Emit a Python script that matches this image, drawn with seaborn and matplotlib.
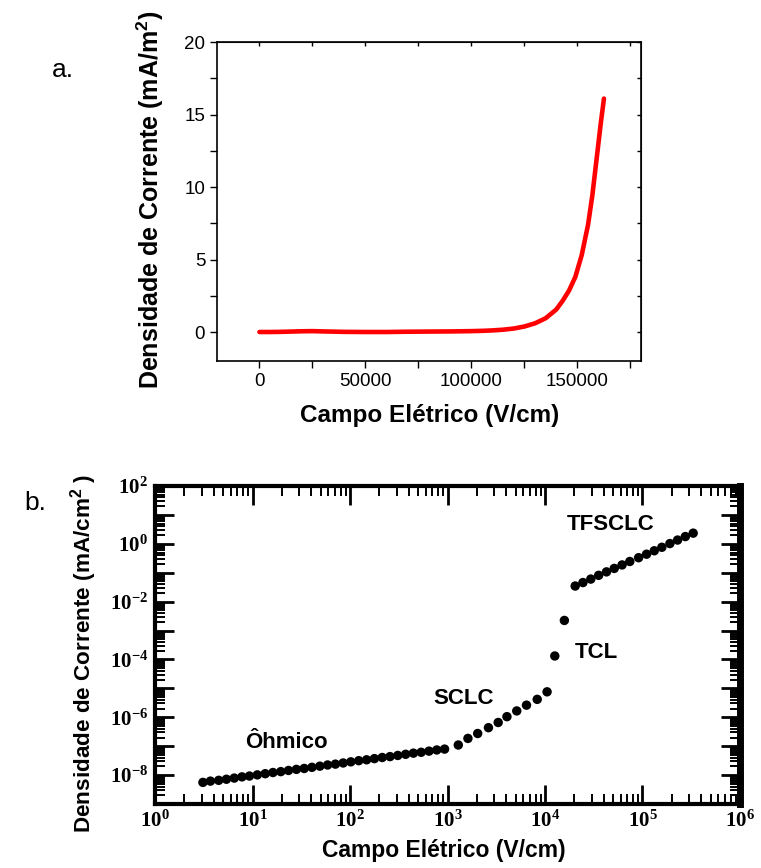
import numpy as np
import pandas as pd
import matplotlib
matplotlib.use("Agg")
import matplotlib.pyplot as plt
import seaborn as sns
from matplotlib.ticker import LogLocator, FuncFormatter, MultipleLocator, NullFormatter, FixedLocator

# panel a - curva J x E (escala linear)
campo_a = [0, 5000, 10000, 15000, 20000, 25000, 30000, 40000, 50000, 60000, 70000,
           80000, 90000, 100000, 105000, 110000, 115000, 120000, 125000, 130000,
           135000, 140000, 143000, 146000, 149000, 152000, 155000, 157000, 159000,
           161000, 162500]
dens_a = [0.0, 0.0, 0.01, 0.03, 0.05, 0.06, 0.04, 0.01, 0.0, 0.0, 0.02,
          0.03, 0.04, 0.06, 0.08, 0.11, 0.16, 0.24, 0.38, 0.6,
          0.95, 1.55, 2.15, 2.85, 3.8, 5.3, 7.4, 9.4, 11.9,
          14.4, 16.1]

# panel b - regimes de conducao (log-log)
ohm_x = [3.1, 3.7, 4.5, 5.4, 6.5, 7.8, 9.3, 11.2, 13.5, 16.2, 19.5, 23.4, 28.2, 33.9,
         40.7, 49.0, 58.9, 70.8, 85.1, 102, 123, 148, 178, 214, 257, 309, 372, 447,
         537, 646, 776, 933]
ohm_y = [5.6e-9, 6.2e-9, 6.6e-9, 7.2e-9, 7.9e-9, 8.7e-9, 9.3e-9, 1.02e-8, 1.12e-8,
         1.23e-8, 1.32e-8, 1.45e-8, 1.58e-8, 1.70e-8, 1.86e-8, 2.04e-8, 2.24e-8,
         2.40e-8, 2.63e-8, 2.88e-8, 3.16e-8, 3.39e-8, 3.72e-8, 4.07e-8, 4.37e-8,
         4.79e-8, 5.25e-8, 5.75e-8, 6.17e-8, 6.76e-8, 7.41e-8, 7.94e-8]
sclc_x = [1290, 1620, 2040, 2630, 3310, 4070, 5130, 6460, 8320, 10500]
sclc_y = [1.10e-7, 1.86e-7, 2.75e-7, 4.37e-7, 6.61e-7, 1.05e-6, 1.66e-6, 2.63e-6,
          4.17e-6, 7.6e-6]
tcl_x = [12600, 15800]
tcl_y = [1.32e-4, 2.24e-3]
tfs_x = [20400, 24500, 29500, 35500, 42700, 51300, 61700, 74100, 91200, 110000,
         132000, 158000, 191000, 229000, 275000, 331000]
tfs_y = [0.0347, 0.0457, 0.0603, 0.0813, 0.107, 0.141, 0.186, 0.245, 0.331, 0.437,
         0.575, 0.759, 1.02, 1.35, 1.78, 2.34]

regioes = ['Ôhmico', 'SCLC', 'TCL', 'TFSCLC']
regiao_x = [8.4, 708, 20400, 16700]
regiao_y = [1.3e-7, 4.6e-6, 1.8e-4, 4.5]

sns.set_style("ticks")
plt.rcParams['font.family'] = ['Liberation Sans', 'DejaVu Sans']
plt.rcParams['mathtext.default'] = 'regular'
plt.rcParams['text.color'] = 'black'
plt.rcParams['axes.labelcolor'] = 'black'
plt.rcParams['xtick.color'] = 'black'
plt.rcParams['ytick.color'] = 'black'

fig = plt.figure(figsize=(7.61, 8.68), dpi=100)

# ---------------- a ----------------
ax1 = fig.add_axes([0.2852, 0.5841, 0.5572, 0.3675])
sns.lineplot(x=campo_a, y=dens_a, ax=ax1, color='#ff0000', lw=3.3,
             solid_capstyle='round')
ax1.set_xlim(-20000, 180000)
ax1.set_ylim(-2, 20)
ax1.xaxis.set_major_locator(MultipleLocator(50000))
ax1.xaxis.set_minor_locator(MultipleLocator(25000))
ax1.yaxis.set_major_locator(MultipleLocator(5))
ax1.yaxis.set_minor_locator(MultipleLocator(2.5))
ax1.tick_params(which='both', direction='out', length=5, width=1, colors='black',
                labelsize=13.5)
for s in ax1.spines.values():
    s.set_visible(True)
    s.set_linewidth(1.2)
    s.set_color('black')

sec_x = ax1.secondary_xaxis('top')
sec_x.xaxis.set_major_locator(MultipleLocator(25000))
sec_x.tick_params(direction='in', length=3, width=1, labeltop=False)
sec_y = ax1.secondary_yaxis('right')
sec_y.yaxis.set_major_locator(MultipleLocator(2.5))
sec_y.tick_params(direction='in', length=3, width=1, labelright=False)

ax1.set_xlabel('Campo Elétrico (V/cm)', fontsize=17.5, fontweight='bold')
ax1.set_ylabel('Densidade de Corrente (mA/m$^{2}$)', fontsize=18, fontweight='bold')
ax1.xaxis.set_label_coords(0.502, -0.135)
ax1.yaxis.set_label_coords(-0.12, 0.505)
fig.text(0.083, 0.919, 'a.', fontsize=19, ha='center', va='center')

# ---------------- b ----------------
df_b = pd.DataFrame({
    'campo': ohm_x + sclc_x + tcl_x + tfs_x,
    'dens': ohm_y + sclc_y + tcl_y + tfs_y,
    'regime': (['ohm'] * len(ohm_x) + ['sclc'] * len(sclc_x)
               + ['tcl'] * len(tcl_x) + ['tfs'] * len(tfs_x)),
})

ax2 = fig.add_axes([0.2037, 0.0737, 0.7687, 0.3664])
sns.scatterplot(data=df_b, x='campo', y='dens', ax=ax2, color='black', s=46,
                edgecolor='none', legend=False)
ax2.set_xscale('log')
ax2.set_yscale('log')
ax2.set_xlim(1, 1e6)
ax2.set_ylim(1e-9, 1e2)

dec_x = [10.0 ** e for e in range(0, 7)]
dec_y = [10.0 ** e for e in range(-9, 3)]
ax2.xaxis.set_major_locator(FixedLocator(dec_x))
ax2.yaxis.set_major_locator(FixedLocator(dec_y))
ax2.xaxis.set_minor_locator(FixedLocator([m * d for d in dec_x[:-1] for m in range(2, 10)]))
ax2.yaxis.set_minor_locator(FixedLocator([m * d for d in dec_y[:-1] for m in range(2, 10)]))
ax2.xaxis.set_minor_formatter(NullFormatter())
ax2.yaxis.set_minor_formatter(NullFormatter())


def pot_x(v, pos):
    e = int(round(np.log10(v)))
    return r'$10^{%d}$' % e


def pot_y(v, pos):
    e = int(round(np.log10(v)))
    if e % 2:
        return ''
    return r'$10^{%d}$' % e


ax2.xaxis.set_major_formatter(FuncFormatter(pot_x))
ax2.yaxis.set_major_formatter(FuncFormatter(pot_y))
ax2.tick_params(which='major', direction='in', length=14, width=2, top=True, right=True,
                colors='black', pad=5)
ax2.tick_params(which='minor', direction='in', length=7, width=1.4, top=True, right=True,
                colors='black')
for lab in ax2.get_xticklabels() + ax2.get_yticklabels():
    lab.set_fontfamily('Liberation Serif')
    lab.set_fontweight('bold')
    lab.set_fontsize(15)
for s in ax2.spines.values():
    s.set_visible(True)
    s.set_linewidth(3)
    s.set_color('black')
ax2.spines['right'].set_linewidth(5)

for nome, xr, yr in zip(regioes, regiao_x, regiao_y):
    ax2.text(xr, yr, nome, fontsize=16, fontweight='bold', ha='left', va='center')

ax2.set_xlabel('Campo Elétrico (V/cm)', fontsize=16.5, fontweight='bold')
ax2.set_ylabel('Densidade de Corrente (mA/cm$^{2}$ )', fontsize=16.2, fontweight='bold')
ax2.xaxis.set_label_coords(0.494, -0.11)
ax2.yaxis.set_label_coords(-0.096, 0.475)
fig.text(0.046, 0.42, 'b.', fontsize=19, ha='center', va='center')

fig.savefig('out.png', dpi=100)
